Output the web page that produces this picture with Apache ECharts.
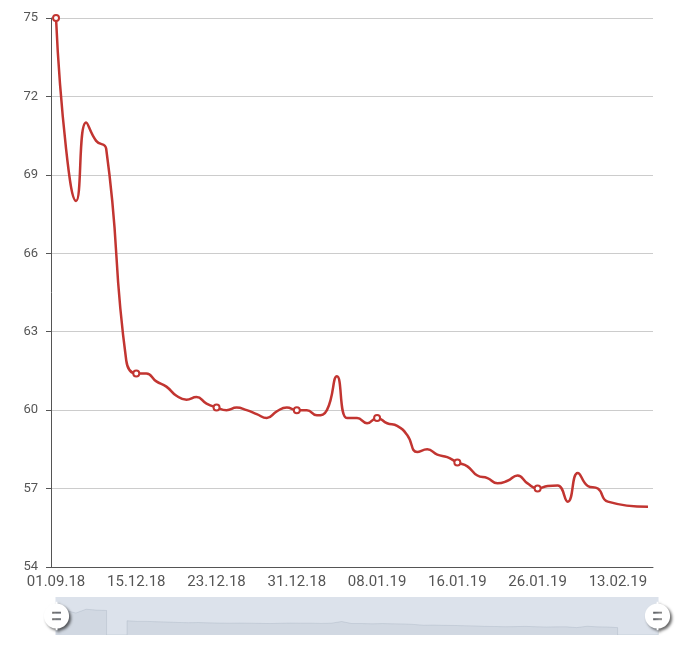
<!DOCTYPE html>
<html>
<head>
<meta charset="utf-8">
<script src="https://cdn.jsdelivr.net/npm/echarts@6/dist/echarts.min.js"></script>
<style>
  html, body { margin: 0; padding: 0; background: #fff; }
  #chart { width: 680px; height: 654px; }
</style>
</head>
<body>
<div id="chart"></div>
<script>
const dates = [
  '01.09.18', '01.10.18', '01.11.18', '15.11.18', '01.12.18', '07.12.18', '10.12.18', '14.12.18',
  '15.12.18', '16.12.18', '17.12.18', '18.12.18', '19.12.18', '20.12.18', '21.12.18', '22.12.18',
  '23.12.18', '24.12.18', '25.12.18', '26.12.18', '27.12.18', '28.12.18', '29.12.18', '30.12.18',
  '31.12.18', '01.01.19', '02.01.19', '03.01.19', '04.01.19', '05.01.19', '06.01.19', '07.01.19',
  '08.01.19', '09.01.19', '10.01.19', '11.01.19', '12.01.19', '13.01.19', '14.01.19', '15.01.19',
  '16.01.19', '17.01.19', '18.01.19', '19.01.19', '21.01.19', '22.01.19', '23.01.19', '24.01.19',
  '26.01.19', '28.01.19', '30.01.19', '01.02.19', '03.02.19', '05.02.19', '07.02.19', '09.02.19',
  '13.02.19', '15.02.19', '17.02.19', '19.02.19'
]

const values = [
  75.0, 70.0, 68.0, 71.0, 70.3, 70.0, null, 61.9,
  61.4, 61.4, 61.1, 60.9, 60.55, 60.4, 60.5, 60.25,
  60.1, 60.0, 60.1, 60.0, 59.85, 59.7, 59.95, 60.1,
  60.0, 60.0, 59.8, 60.0, 61.3, 59.7, 59.7, 59.5,
  59.7, 59.5, 59.4, 59.05, 58.4, 58.5, 58.3, 58.2,
  58.0, 57.85, 57.5, 57.4, 57.2, 57.3, 57.5, 57.2,
  57.0, 57.1, 57.12, 56.5, 57.6, 57.1, 57.0, 56.5,
  null, null, null, 56.3
]

const yMin = 54
const yMax = 75
const yStep = 3

const chart = echarts.init(document.getElementById('chart'))

const option = {
  animation: false,
  textStyle: { fontFamily: 'Roboto' },
  grid: {
    left: 51,
    right: 27,
    top: 18,
    bottom: 87
  },
  xAxis: {
    type: 'category',
    boundaryGap: true,
    data: dates,
    axisLine: { lineStyle: { color: '#555' } },
    axisTick: { interval: 7, lineStyle: { color: '#555' } },
    axisLabel: {
      interval: 7,
      color: '#555',
      fontSize: 15,
      margin: 8
    },
    splitLine: { show: false }
  },
  yAxis: {
    type: 'value',
    min: yMin,
    max: yMax,
    interval: yStep,
    axisLine: { show: true, lineStyle: { color: '#555' } },
    axisTick: { show: true, lineStyle: { color: '#555' } },
    axisLabel: {
      color: '#555',
      fontSize: 13,
      margin: 13
    },
    splitLine: {
      lineStyle: { color: '#ccc', width: 1 }
    }
  },
  dataZoom: [
    {
      type: 'slider',
      xAxisIndex: 0,
      start: 0,
      end: 100,
      left: 53,
      right: 24,
      bottom: 19,
      height: 38,
      showDetail: false,
      brushSelect: false,
      moveHandleSize: 0,
      borderColor: 'transparent',
      backgroundColor: 'rgba(47,69,84,0)',
      fillerColor: 'rgba(167,183,204,0.4)',
      handleIcon: 'path://M10.7,11.9v-1.3H9.3v1.3c-4.9,0.3-8.8,4.4-8.8,9.4c0,5,3.9,9.1,8.8,9.4v1.3h1.3v-1.3c4.9-0.3,8.8-4.4,8.8-9.4C19.5,16.3,15.6,12.2,10.7,11.9z M13.3,24.4H6.7V23h6.6V24.4z M13.3,19.6H6.7v-1.4h6.6V19.6z',
      handleSize: '75%',
      handleStyle: {
        color: '#fff',
        borderColor: '#ccc',
        borderWidth: 0,
        shadowBlur: 3,
        shadowColor: 'rgba(0, 0, 0, 0.6)',
        shadowOffsetX: 2,
        shadowOffsetY: 2
      },
      dataBackground: {
        lineStyle: { color: '#2f4554', width: 0.5, opacity: 0.3 },
        areaStyle: { color: 'rgba(47,69,84,0.3)', opacity: 0.3 }
      },
      selectedDataBackground: {
        lineStyle: { color: '#2f4554', width: 0.5, opacity: 0.3 },
        areaStyle: { color: 'rgba(47,69,84,0.3)', opacity: 0.3 }
      }
    }
  ],
  series: [
    {
      type: 'line',
      data: values,
      smooth: true,
      connectNulls: true,
      symbol: 'emptyCircle',
      symbolSize: 6,
      showAllSymbol: false,
      itemStyle: { color: '#c23531' },
      lineStyle: { color: '#c23531', width: 2.5 }
    }
  ]
}

chart.setOption(option)
</script>
</body>
</html>
